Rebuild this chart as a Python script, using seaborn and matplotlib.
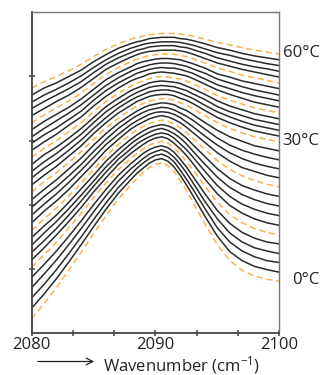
import matplotlib
matplotlib.use("Agg")
import matplotlib.pyplot as plt
from matplotlib.ticker import MultipleLocator, FixedLocator
import pandas as pd
import seaborn as sns

# spectra, one row per temperature (0..60 C in 2 C steps)
# finer sampling around the band maximum
wavenumber = [2080, 2081, 2082, 2083, 2084, 2085, 2086, 2087, 2088, 2088.5, 2089, 2089.5, 2090,
              2090.5, 2091, 2091.5, 2092, 2092.5, 2093, 2094, 2095, 2096, 2097, 2098, 2099, 2100]
temperatures = list(range(0, 61, 2))
absorbance = [
    [2.3, 4.6, 7.1, 9.8, 12.6, 15.5, 18.3, 20.9, 23.1, 24.1, 25.0, 25.8, 26.3, 26.55, 26.1, 25.2, 23.8, 22.2, 20.5, 17.0, 13.8, 11.3, 9.8, 8.9, 8.4, 8.1],
    [3.9, 6.1, 8.5, 11.1, 13.8, 16.6, 19.3, 21.8, 23.9, 24.9, 25.7, 26.5, 27.0, 27.2, 26.8, 25.9, 24.6, 23.1, 21.5, 18.2, 15.1, 12.7, 11.3, 10.4, 9.9, 9.5],
    [5.5, 7.6, 9.9, 12.4, 15.0, 17.7, 20.3, 22.7, 24.7, 25.7, 26.5, 27.2, 27.7, 27.9, 27.5, 26.7, 25.4, 24.0, 22.5, 19.4, 16.4, 14.2, 12.8, 11.9, 11.3, 11.0],
    [7.1, 9.2, 11.4, 13.8, 16.3, 18.9, 21.4, 23.7, 25.6, 26.4, 27.2, 27.9, 28.3, 28.6, 28.2, 27.4, 26.3, 25.0, 23.5, 20.5, 17.8, 15.6, 14.2, 13.3, 12.8, 12.4],
    [8.7, 10.7, 12.8, 15.1, 17.5, 20.0, 22.4, 24.6, 26.4, 27.2, 28.0, 28.6, 29.0, 29.2, 28.9, 28.2, 27.1, 25.9, 24.5, 21.7, 19.1, 17.1, 15.7, 14.8, 14.2, 13.9],
    [10.3, 12.2, 14.2, 16.4, 18.7, 21.1, 23.4, 25.5, 27.2, 28.0, 28.7, 29.3, 29.7, 29.9, 29.6, 28.9, 27.9, 26.8, 25.5, 22.9, 20.4, 18.5, 17.2, 16.3, 15.7, 15.3],
    [11.4, 13.3, 15.3, 17.4, 19.6, 22.0, 24.2, 26.3, 28.0, 28.7, 29.4, 30.0, 30.4, 30.6, 30.3, 29.6, 28.7, 27.7, 26.5, 24.0, 21.7, 19.9, 18.7, 17.8, 17.2, 16.8],
    [12.6, 14.4, 16.3, 18.4, 20.6, 22.9, 25.1, 27.1, 28.7, 29.5, 30.1, 30.6, 31.0, 31.2, 31.0, 30.4, 29.5, 28.6, 27.5, 25.2, 23.0, 21.3, 20.1, 19.3, 18.7, 18.3],
    [13.7, 15.6, 17.4, 19.4, 21.5, 23.7, 25.9, 27.8, 29.5, 30.2, 30.8, 31.3, 31.7, 31.9, 31.6, 31.1, 30.4, 29.5, 28.4, 26.3, 24.3, 22.7, 21.6, 20.8, 20.2, 19.8],
    [14.9, 16.7, 18.4, 20.4, 22.5, 24.6, 26.8, 28.6, 30.2, 30.9, 31.5, 32.0, 32.3, 32.5, 32.3, 31.9, 31.2, 30.4, 29.4, 27.5, 25.6, 24.1, 23.0, 22.3, 21.7, 21.3],
    [16.0, 17.8, 19.5, 21.4, 23.4, 25.5, 27.6, 29.4, 31.0, 31.65, 32.2, 32.65, 33.0, 33.2, 33.0, 32.6, 32.0, 31.25, 30.4, 28.6, 26.9, 25.5, 24.5, 23.8, 23.2, 22.8],
    [17.2, 19.0, 20.6, 22.4, 24.4, 26.4, 28.5, 30.2, 31.8, 32.4, 32.9, 33.4, 33.7, 33.9, 33.7, 33.3, 32.8, 32.1, 31.3, 29.7, 28.1, 26.8, 25.8, 25.2, 24.6, 24.2],
    [18.4, 20.1, 21.7, 23.5, 25.4, 27.4, 29.4, 31.0, 32.5, 33.1, 33.6, 34.1, 34.4, 34.5, 34.4, 34.1, 33.6, 32.9, 32.2, 30.7, 29.3, 28.1, 27.2, 26.5, 26.0, 25.6],
    [19.6, 21.3, 22.8, 24.5, 26.3, 28.3, 30.2, 31.9, 33.3, 33.9, 34.4, 34.8, 35.0, 35.2, 35.1, 34.8, 34.3, 33.8, 33.2, 31.8, 30.4, 29.3, 28.5, 27.9, 27.4, 27.0],
    [20.8, 22.4, 23.9, 25.6, 27.3, 29.3, 31.1, 32.7, 34.0, 34.6, 35.1, 35.5, 35.7, 35.9, 35.8, 35.6, 35.1, 34.7, 34.1, 32.8, 31.6, 30.6, 29.9, 29.2, 28.8, 28.4],
    [22.0, 23.6, 25.0, 26.6, 28.3, 30.2, 32.0, 33.5, 34.8, 35.35, 35.8, 36.15, 36.4, 36.55, 36.5, 36.3, 35.9, 35.5, 35.0, 33.9, 32.8, 31.9, 31.2, 30.6, 30.2, 29.8],
    [23.1, 24.6, 26.0, 27.6, 29.2, 31.1, 32.8, 34.3, 35.5, 36.1, 36.5, 36.9, 37.1, 37.2, 37.2, 37.0, 36.6, 36.3, 35.8, 34.7, 33.6, 32.8, 32.1, 31.5, 31.1, 30.7],
    [24.2, 25.7, 27.0, 28.5, 30.1, 31.9, 33.6, 35.1, 36.3, 36.8, 37.2, 37.6, 37.8, 37.9, 37.9, 37.7, 37.4, 37.0, 36.6, 35.5, 34.5, 33.7, 33.0, 32.4, 32.0, 31.6],
    [25.2, 26.7, 28.0, 29.5, 31.0, 32.8, 34.5, 35.8, 37.0, 37.5, 37.9, 38.3, 38.5, 38.6, 38.5, 38.4, 38.1, 37.8, 37.3, 36.4, 35.3, 34.5, 33.9, 33.3, 32.9, 32.5],
    [26.3, 27.8, 29.0, 30.4, 31.9, 33.6, 35.3, 36.6, 37.8, 38.2, 38.6, 39.0, 39.2, 39.3, 39.2, 39.1, 38.9, 38.5, 38.1, 37.2, 36.2, 35.4, 34.8, 34.2, 33.8, 33.4],
    [27.4, 28.8, 30.0, 31.4, 32.8, 34.5, 36.1, 37.4, 38.5, 38.95, 39.3, 39.65, 39.9, 40.0, 39.9, 39.8, 39.6, 39.3, 38.9, 38.0, 37.0, 36.3, 35.7, 35.1, 34.7, 34.3],
    [28.5, 29.8, 31.0, 32.4, 33.7, 35.4, 36.9, 38.2, 39.3, 39.7, 40.0, 40.4, 40.6, 40.7, 40.6, 40.5, 40.3, 40.1, 39.7, 38.8, 37.9, 37.2, 36.6, 36.0, 35.6, 35.2],
    [29.6, 30.9, 32.0, 33.3, 34.6, 36.3, 37.8, 39.0, 40.0, 40.5, 40.8, 41.1, 41.3, 41.4, 41.3, 41.3, 41.1, 40.8, 40.5, 39.6, 38.7, 38.1, 37.5, 37.0, 36.6, 36.2],
    [30.6, 31.9, 33.1, 34.3, 35.6, 37.1, 38.6, 39.8, 40.8, 41.2, 41.5, 41.8, 42.0, 42.1, 42.1, 42.0, 41.8, 41.6, 41.2, 40.5, 39.6, 39.0, 38.4, 37.9, 37.5, 37.1],
    [31.7, 33.0, 34.1, 35.2, 36.5, 38.0, 39.5, 40.6, 41.5, 42.0, 42.3, 42.5, 42.7, 42.8, 42.8, 42.7, 42.6, 42.3, 42.0, 41.3, 40.4, 39.9, 39.3, 38.9, 38.5, 38.1],
    [32.8, 34.0, 35.1, 36.2, 37.4, 38.9, 40.3, 41.4, 42.3, 42.7, 43.0, 43.25, 43.4, 43.5, 43.5, 43.45, 43.3, 43.1, 42.8, 42.1, 41.3, 40.8, 40.2, 39.8, 39.4, 39.0],
    [33.9, 35.0, 36.1, 37.1, 38.3, 39.7, 41.1, 42.1, 43.0, 43.4, 43.7, 43.9, 44.0, 44.1, 44.1, 44.1, 44.0, 43.8, 43.5, 42.8, 42.1, 41.6, 41.1, 40.7, 40.3, 39.9],
    [35.0, 36.1, 37.1, 38.1, 39.2, 40.6, 41.9, 42.9, 43.7, 44.1, 44.3, 44.6, 44.7, 44.8, 44.8, 44.8, 44.6, 44.5, 44.2, 43.6, 42.9, 42.4, 41.9, 41.5, 41.2, 40.8],
    [36.0, 37.1, 38.0, 39.0, 40.1, 41.4, 42.6, 43.6, 44.4, 44.7, 45.0, 45.2, 45.3, 45.4, 45.4, 45.4, 45.3, 45.1, 44.9, 44.3, 43.7, 43.3, 42.8, 42.4, 42.0, 41.7],
    [37.1, 38.2, 39.0, 40.0, 41.0, 42.3, 43.4, 44.4, 45.1, 45.4, 45.6, 45.9, 46.0, 46.1, 46.1, 46.1, 45.9, 45.8, 45.6, 45.1, 44.5, 44.1, 43.6, 43.2, 42.9, 42.6],
    [38.2, 39.2, 40.0, 40.9, 41.9, 43.1, 44.2, 45.1, 45.8, 46.1, 46.3, 46.5, 46.6, 46.7, 46.7, 46.7, 46.6, 46.5, 46.3, 45.8, 45.3, 44.9, 44.5, 44.1, 43.8, 43.5],
]
labelled_temps = [0, 30, 60]

sns.set_theme(style="ticks")
plt.rcParams["font.family"] = ["Open Sans", "DejaVu Sans"]
plt.rcParams["mathtext.fontset"] = "custom"
plt.rcParams["mathtext.rm"] = "Open Sans"
plt.rcParams["mathtext.default"] = "regular"

rows = []
for t, spec in zip(temperatures, absorbance):
    kind = "tens" if t % 10 == 0 else "steps"
    for w, a in zip(wavenumber, spec):
        rows.append({"wavenumber": w, "absorbance": a, "temperature": t, "kind": kind})
df = pd.DataFrame(rows)

fig = plt.figure(figsize=(3.22, 3.75), dpi=100)
ax = fig.add_axes([0.0984, 0.1116, 0.769, 0.8556])

sns.lineplot(data=df, x="wavenumber", y="absorbance", units="temperature", estimator=None,
             hue="kind", style="kind", hue_order=["steps", "tens"], style_order=["steps", "tens"],
             palette={"steps": "#2b2b2b", "tens": "#F8B24F"},
             dashes={"steps": "", "tens": (4, 2.5)}, lw=1.1, legend=False, ax=ax)

ax.set_xlim(2080, 2100)
ax.set_ylim(0, 50)
ax.xaxis.set_major_locator(FixedLocator([2080, 2090, 2100]))
ax.xaxis.set_minor_locator(MultipleLocator(10 / 3))
ax.yaxis.set_major_locator(FixedLocator([10, 20, 30, 40]))
ax.set_yticklabels([])
ax.tick_params(axis="x", which="both", direction="inout", length=4, width=1.1, color="#444",
               labelsize=12, labelcolor="#222", pad=1, top=False)
ax.tick_params(axis="y", which="both", direction="inout", length=4, width=1.1, color="#444",
               left=True, right=False)
ax.set_xlabel("")
ax.set_ylabel("")
for side in ["left", "bottom"]:
    ax.spines[side].set_linewidth(1.3)
    ax.spines[side].set_color("#444")
for side in ["top", "right"]:
    ax.spines[side].set_visible(True)
    ax.spines[side].set_linewidth(1.0)
    ax.spines[side].set_color("#777")

# temperature labels at the right end of their curves
for t in labelled_temps:
    y_end = absorbance[temperatures.index(t)][-1]
    ax.annotate(f"{t}°C", xy=(wavenumber[-1], y_end), xytext=(29, 1), textcoords="offset points",
                ha="right", va="center", fontsize=12, color="#222", annotation_clip=False)

# arrow + axis title under the plot
ax.annotate("", xy=(97, 13.5), xytext=(35, 13.5), xycoords="figure pixels",
            arrowprops=dict(arrowstyle="->", lw=0.9, color="#222"))
fig.text(103 / 322, 4.5 / 375, "Wavenumber (cm$^{-1}$)", ha="left", va="baseline",
         fontsize=12, color="#222")

fig.savefig("out.png", dpi=100)
